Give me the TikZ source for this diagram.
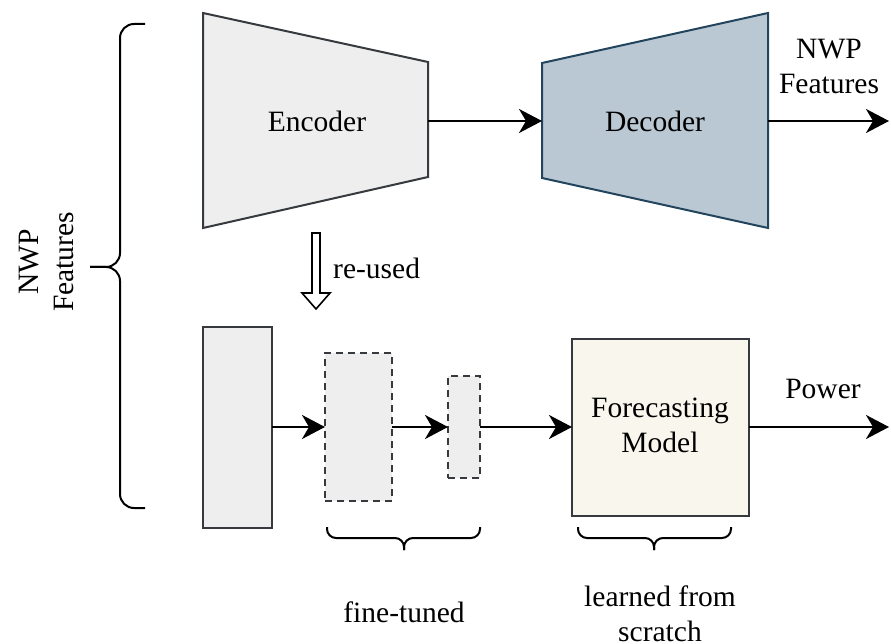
\documentclass[tikz,border=0pt]{standalone}
\usepackage{fontspec}
\setmainfont{Liberation Serif}
\usetikzlibrary{arrows.meta}
\definecolor{grayfill}{HTML}{EEEEEE}
\definecolor{graystroke}{HTML}{36393D}
\definecolor{bluefill}{HTML}{BAC8D3}
\definecolor{bluestroke}{HTML}{23445D}
\definecolor{creamfill}{HTML}{F9F7ED}
\begin{document}
\begin{tikzpicture}[x=1pt,y=-1pt,
  txt/.style={font=\fontsize{29.5}{35}\selectfont, align=center, inner sep=0pt},
  shapeline/.style={line width=2pt, line join=miter},
  blockbox/.style={shapeline, draw=graystroke, fill=grayfill, inner sep=0pt, outer sep=0pt},
  dashbox/.style={blockbox, dash pattern=on 7pt off 5pt},
  arr/.style={line width=2.4pt, -{Stealth[length=23pt,width=24pt,inset=7pt]}},
  bracestyle/.style={line width=2pt, rounded corners=14pt},
  sbrace/.style={line width=2pt, rounded corners=9pt}]
\useasboundingbox (0,0) rectangle (891,644);

% Encoder trapezoid
\draw[shapeline, draw=graystroke, fill=grayfill] (203,13) -- (428,62) -- (428,177) -- (203,228) -- cycle;
\node[txt] (enc) at (317,121) {Encoder};
\coordinate (encR) at (428,121);

% Decoder trapezoid
\draw[shapeline, draw=bluestroke, fill=bluefill] (542,63) -- (768,13) -- (768,228) -- (542,178) -- cycle;
\node[txt] (dec) at (655,121) {Decoder};
\coordinate (decL) at (542,121);
\coordinate (decR) at (768,121);
\coordinate (outTop) at (889,121);

\draw[arr] (encR) -- (decL);
\draw[arr] (decR) -- (outTop);
\node[txt] (nwpTop) at (829,66) {NWP\\Features};

% Left brace
\coordinate (lbTop) at (145,24);
\coordinate (lbBot) at (145,508);
\coordinate (lbTip) at (90,267);
\draw[bracestyle] (lbTop) -- (120,24) -- (120,267) -- (lbTip);
\draw[bracestyle] (lbBot) -- (120,508) -- (120,267) -- (lbTip);
\node[txt, rotate=90] (nwpLeft) at (46,262) {NWP\\Features};

% re-used hollow arrow
\draw[line width=1.6pt, fill=white, line join=miter]
  (312,233) -- (320,233) -- (320,293) -- (330,293) -- (316,309) -- (302,293) -- (312,293) -- cycle;
\node[txt, anchor=west] (reused) at (333,268) {re-used};

% Lower blocks
\node[blockbox, minimum width=69, minimum height=201] (b1) at (237.5,427.5) {};
\node[dashbox, minimum width=67, minimum height=148] (b2) at (358.5,427) {};
\node[dashbox, minimum width=32, minimum height=102] (b3) at (464,427) {};
\node[blockbox, fill=creamfill, minimum width=177, minimum height=177] (fm) at (660.5,427.5) {};
\node[txt] (fmtext) at (660,425) {Forecasting\\Model};
\coordinate (outBot) at (889,427);

\draw[arr] (b1.east |- b2) -- (b2.west);
\draw[arr] (b2.east) -- (b3.west);
\draw[arr] (b3.east) -- (fm.west |- b3);
\draw[arr] (fm.east |- outBot) -- (outBot);
\node[txt] (power) at (823,389) {Power};

% Bottom braces
\draw[sbrace] (327,527) -- (327,538) -- (404,538) -- (404,550);
\draw[sbrace] (480,527) -- (480,538) -- (404,538) -- (404,550);
\draw[sbrace] (578,527) -- (578,538) -- (654,538) -- (654,550);
\draw[sbrace] (731,527) -- (731,538) -- (654,538) -- (654,550);
\node[txt] (ft) at (404,612) {fine-tuned};
\node[txt] (lfs) at (660,614) {learned from\\scratch};
\end{tikzpicture}
\end{document}
